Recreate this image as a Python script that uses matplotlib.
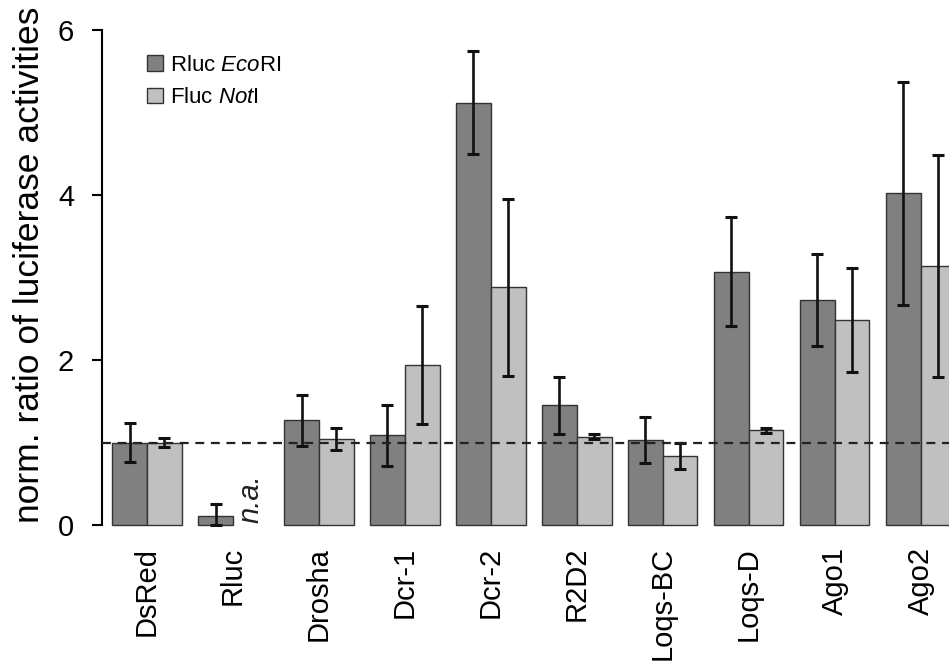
import numpy as np
import matplotlib.pyplot as plt
from matplotlib.patches import Patch

plt.rcParams['font.family'] = 'Liberation Sans'
plt.rcParams['mathtext.fontset'] = 'custom'
plt.rcParams['mathtext.rm'] = 'Liberation Sans'
plt.rcParams['mathtext.it'] = 'Liberation Sans:italic'

# Data
genes = ['DsRed', 'Rluc', 'Drosha', 'Dcr-1', 'Dcr-2', 'R2D2',
         'Loqs-BC', 'Loqs-D', 'Ago1', 'Ago2']
rluc_mean = [1.00, 0.11, 1.27, 1.09, 5.12, 1.45, 1.03, 3.07, 2.73, 4.02]
rluc_err = [0.24, 0.15, 0.31, 0.37, 0.62, 0.35, 0.28, 0.66, 0.56, 1.35]
fluc_mean = [1.00, np.nan, 1.04, 1.94, 2.88, 1.07, 0.84, 1.15, 2.48, 3.14]
fluc_err = [0.05, np.nan, 0.13, 0.72, 1.07, 0.03, 0.16, 0.03, 0.63, 1.35]

dark = '#808080'
light = '#c0c0c0'
edge = '#333333'

fig = plt.figure(figsize=(9.49, 6.69), dpi=100)
ax = fig.add_axes([0.1075, 0.2115, 0.8925, 0.7474])

x = np.arange(len(genes))
w = 0.404
ekw = dict(ecolor='#111111', elinewidth=1.9, capsize=4, capthick=2.2)

# error bars never drop below zero
rluc_lo = np.minimum(rluc_err, rluc_mean)
ax.bar(x - w / 2, rluc_mean, w, color=dark, edgecolor=edge, linewidth=1,
       yerr=[rluc_lo, rluc_err], error_kw=ekw, zorder=2)
ax.bar(x + w / 2, fluc_mean, w, color=light, edgecolor=edge, linewidth=1,
       yerr=fluc_err, error_kw=ekw, zorder=2)

# reference level
ax.axhline(1, color='#222222', linestyle=(0, (4, 3)), linewidth=1.6, zorder=3)

# missing value marker
ax.text(1 + w / 2, 0.02, 'n.a.', rotation=90, style='italic', fontsize=21,
        ha='center', va='bottom', color='#222222')

ax.set_xlim(-0.523, 9.33)
ax.set_ylim(-0.03, 6.03)
ax.set_yticks([0, 2, 4, 6])
ax.tick_params(axis='y', labelsize=21, length=7, width=1.5, direction='out', pad=13)
ax.set_xticks(x)
ax.set_xticklabels(genes, rotation=90, fontsize=21)
ax.tick_params(axis='x', length=0, pad=14)

for s in ['top', 'right', 'bottom']:
    ax.spines[s].set_visible(False)
ax.spines['left'].set_linewidth(1.5)
ax.spines['left'].set_bounds(0, 6)

ax.set_ylabel('norm. ratio of luciferase activities', fontsize=25.5)
ax.yaxis.set_label_coords(-0.066, 0.525)

handles = [Patch(facecolor=dark, edgecolor=edge, linewidth=1),
           Patch(facecolor=light, edgecolor=edge, linewidth=1)]
ax.legend(handles, ['Rluc $\\mathit{Eco}$RI', 'Fluc $\\mathit{Not}$I'],
          loc='upper left', bbox_to_anchor=(0.03, 0.985), frameon=False,
          fontsize=16, handlelength=0.7, handleheight=0.7, handletextpad=0.3,
          labelspacing=0.5)

fig.savefig('out.png', dpi=100)
